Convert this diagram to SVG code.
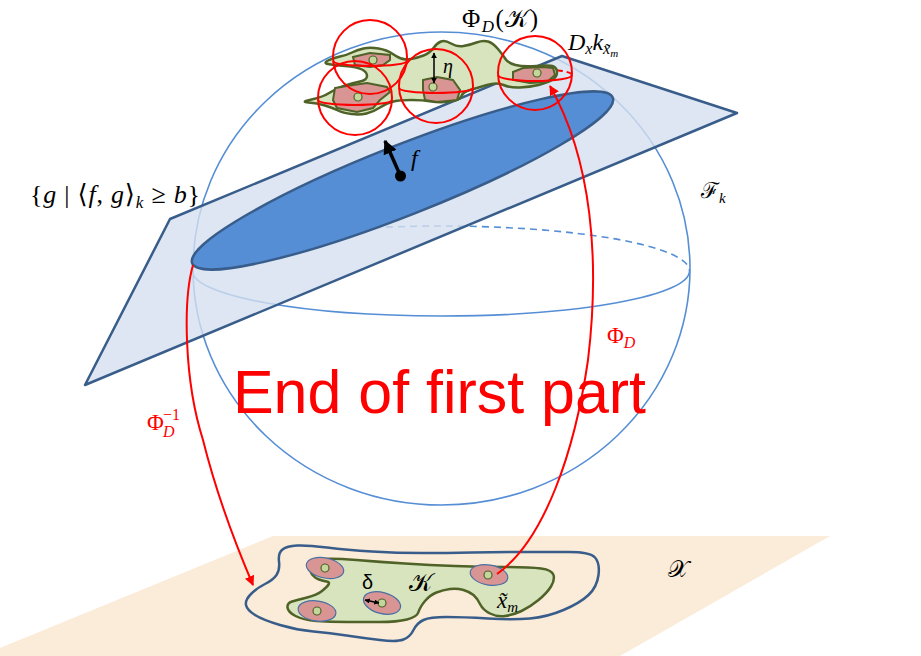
<svg xmlns="http://www.w3.org/2000/svg" width="921" height="656" viewBox="0 0 921 656">
<style>
.math{font-family:"Liberation Serif","DejaVu Serif",serif;fill:#000}
.it{font-style:italic}
.sph{fill:none;stroke:#558ed5;stroke-width:1.6}
.rc{fill:none;stroke:#ff0000;stroke-width:2}
.rcd{fill:none;stroke:#ff0000;stroke-width:2;stroke-dasharray:6 4}
.pinkT{fill:#d99594;stroke:#4f6228;stroke-width:2}
.pinkB{fill:#d99594;stroke:#4a6fa5;stroke-width:1.2}
.dot{fill:#c3d69b;stroke:#4f6228;stroke-width:1.2}
.red{fill:#ff0000}
</style>
<defs>
<marker id="ar" viewBox="0 0 10 10" refX="9" refY="5" markerWidth="5" markerHeight="5" orient="auto" markerUnits="strokeWidth"><path d="M0,0 L10,5 L0,10 z" fill="#ff0000"/></marker>
<marker id="ak" viewBox="0 0 10 10" refX="9" refY="5" markerWidth="4" markerHeight="4" orient="auto" markerUnits="strokeWidth"><path d="M0,0 L10,5 L0,10 z" fill="#000"/></marker>
<marker id="aks" viewBox="0 0 10 10" refX="9" refY="5" markerWidth="4" markerHeight="4" orient="auto-start-reverse" markerUnits="strokeWidth"><path d="M0,0 L10,5 L0,10 z" fill="#000"/></marker>
</defs>

<g id="input-space">
<polygon points="273,536 830,536 620,656 0,656 0,648" fill="#fbebd9"/>
<path d="M251,594 Q257,588 265,584 Q273,580 276.5,575 Q280,570 279,561.5 Q278,553 282.5,549.5 Q287,546 297,545.5 Q307,545 327,547.5 Q347,550 372,551.5 Q397,553 422,553 Q447,553 472,552.5 Q497,552 522,552 Q547,552 568.5,552 Q590,552 595,557.5 Q600,563 598.5,575 Q597,587 588.5,595 Q580,603 563.5,610 Q547,617 530,618.5 Q513,620 488,618.5 Q463,617 446.5,617 Q430,617 423.5,620 Q417,623 413.5,630 Q410,637 403.5,639.5 Q397,642 380,640 Q363,638 346.5,635.5 Q330,633 313.5,631.5 Q297,630 280,625 Q263,620 255,615 Q247,610 246,605 Q245,600 251,594 Z" fill="none" stroke="#385d8a" stroke-width="2.5"/>
<path d="M321.5,559 Q333,558 356.5,560 Q380,562 405,563.5 Q430,565 455,566 Q480,567 505,567 Q530,567 541,568.5 Q552,570 553.5,575 Q555,580 551,586.5 Q547,593 538.5,600 Q530,607 521.5,611 Q513,615 505,616 Q497,617 490,613.5 Q483,610 480,604 Q477,598 473.5,595 Q470,592 463.5,590 Q457,588 450,589 Q443,590 436.5,592.5 Q430,595 425,601 Q420,607 418.5,612 Q417,617 407,619.5 Q397,622 380,622 Q363,622 346.5,622 Q330,622 316.5,621 Q303,620 295.5,616 Q288,612 287.5,607.5 Q287,603 292,601.5 Q297,600 307,597.5 Q317,595 322,591 Q327,587 328.5,584.5 Q330,582 326.5,581.5 Q323,581 319,579.5 Q315,578 312.5,575 Q310,572 310,566 Q310,560 321.5,559 Z" fill="#d7e4bd" stroke="#4f6228" stroke-width="2.5"/>
<ellipse class="pinkB" cx="325" cy="568" rx="19" ry="10" transform="rotate(12 325 568)"/>
<ellipse class="pinkB" cx="317" cy="611" rx="19" ry="10" transform="rotate(8 317 611)"/>
<ellipse class="pinkB" cx="382" cy="603" rx="19" ry="10.5" transform="rotate(15 382 603)"/>
<ellipse class="pinkB" cx="489" cy="575" rx="19" ry="10" transform="rotate(10 489 575)"/>
<circle class="dot" cx="325" cy="568" r="4"/>
<circle class="dot" cx="317" cy="611" r="4"/>
<circle class="dot" cx="382" cy="603" r="4"/>
<circle class="dot" cx="488" cy="575" r="4"/>
<line x1="365" y1="600" x2="379" y2="603" stroke="#000" stroke-width="1.3" marker-start="url(#aks)" marker-end="url(#aks)"/>
<text x="362" y="589" font-family="Liberation Sans, sans-serif" font-size="20" fill="#000">δ</text>
<text x="409" y="591" class="math" font-size="25">𝒦</text>
<text x="497" y="608" class="math it" font-size="23">x̃<tspan font-size="15" dy="4">m</tspan></text>
<text x="668" y="577" class="math" font-size="24">𝒳</text>
</g>

<g id="sphere">
<ellipse class="sph" cx="441.5" cy="268.5" rx="248.5" ry="236.5"/>
<path class="sph" d="M192.5,271 A248.5,45 0 0 1 689.5,271" stroke-dasharray="7 5"/>
<path class="sph" d="M192.5,271 A248.5,45 0 0 0 689.5,271"/>
</g>

<g id="plane">
<polygon points="85,385 170,219 562,56 737,113" fill="#d5e0ef" fill-opacity="0.8" stroke="#385d8a" stroke-width="2.5" stroke-linejoin="round"/>
<ellipse cx="402.5" cy="180.5" rx="226" ry="35" transform="rotate(-21.5 402.5 180.5)" fill="#558ed5" stroke="#385d8a" stroke-width="2.5"/>
</g>

<g id="balls-back">
<path class="rcd" d="M333,61 A37,5 0 0 1 407,61"/>
<path class="rcd" d="M318,100 A37,5 0 0 1 392,100"/>
<path class="rcd" d="M399,88 A37,5 0 0 1 473,88"/>
<path class="rcd" d="M498,75 A37,6 0 0 1 572,75"/>
</g>

<g id="image-set">
<path d="M308.5,102.5 Q317,103 325,105.5 Q333,108 338,110.5 Q343,113 351.5,114 Q360,115 366.5,113.5 Q373,112 380,107.5 Q387,103 393.5,101.5 Q400,100 411.5,100 Q423,100 431.5,101.5 Q440,103 450,101.5 Q460,100 461.5,96 Q463,92 470,90 Q477,88 487,85 Q497,82 503.5,85 Q510,88 520,87.5 Q530,87 538.5,85 Q547,83 552,80 Q557,77 557,72.5 Q557,68 553.5,66.5 Q550,65 536.5,66 Q523,67 515.5,65 Q508,63 505.5,59 Q503,55 498,49 Q493,43 488,41.5 Q483,40 476.5,42.5 Q470,45 463.5,46 Q457,47 451,43.5 Q445,40 441,41.5 Q437,43 433.5,48 Q430,53 423.5,55.5 Q417,58 411,59 Q405,60 401,58.5 Q397,57 392,53.5 Q387,50 378.5,48.5 Q370,47 363.5,48.5 Q357,50 352,52.5 Q347,55 340,56.5 Q333,58 328,60.5 Q323,63 328,64 Q333,65 345,66 Q357,67 362,69.5 Q367,72 367,76 Q367,80 360,81.5 Q353,83 345,85.5 Q337,88 330,92.5 Q323,97 311.5,99.5 Q300,102 308.5,102.5 Z" fill="#d7e4bd" stroke="#4f6228" stroke-width="2.5" stroke-linejoin="round"/>
<polygon class="pinkT" points="353,57 370,53 390,55 390,60 383,65 370,67 355,65"/>
<polygon class="pinkT" points="335,88 353,85 367,83 387,87 390,92 380,100 373,108 357,112 337,108 333,100"/>
<polygon class="pinkT" points="423,80 437,77 453,80 460,90 457,100 437,102 425,100 423,90"/>
<polygon class="pinkT" points="513,72 523,68 543,67 553,68 555,75 547,82 530,83 513,80"/>
<circle class="dot" cx="373" cy="60" r="4"/>
<circle class="dot" cx="358" cy="97" r="4"/>
<circle class="dot" cx="433" cy="87" r="4"/>
<circle class="dot" cx="537" cy="73" r="4"/>
<line x1="434" y1="53" x2="434" y2="83" stroke="#000" stroke-width="1.5" marker-start="url(#aks)" marker-end="url(#aks)"/>
</g>

<g id="balls">
<circle class="rc" cx="370" cy="57" r="37"/>
<path class="rc" d="M333,61 A37,5 0 0 0 407,61"/>
<circle class="rc" cx="355" cy="98" r="37"/>
<path class="rc" d="M318,100 A37,5 0 0 0 392,100"/>
<circle class="rc" cx="436" cy="86" r="37"/>
<path class="rc" d="M399,88 A37,5 0 0 0 473,88"/>
<circle class="rc" cx="535" cy="73" r="37"/>
<path class="rc" d="M498,75 A37,6 0 0 0 572,75"/>
</g>

<g id="f-vector">
<line x1="400.5" y1="176" x2="385" y2="141" stroke="#000" stroke-width="3.5" marker-end="url(#ak)"/>
<circle cx="400.5" cy="176" r="5.5" fill="#000"/>
<text x="411" y="166" class="math it" font-size="24">f</text>
</g>

<g id="connectors">
<path d="M497,574 C545,540 575,450 588,360 C600,260 592,160 550,86" fill="none" stroke="#ff0000" stroke-width="2" marker-end="url(#ar)"/>
<path d="M193,265 C183,300 184,380 203,440 C218,500 238,550 253,585" fill="none" stroke="#ff0000" stroke-width="2" marker-end="url(#ar)"/>
</g>

<g id="labels">
<text x="462" y="27" class="math" font-size="25" textLength="76" lengthAdjust="spacing">Φ<tspan class="it" font-size="17" dy="5">D</tspan><tspan dy="-5">(𝒦)</tspan></text>
<text x="568" y="50" class="math it" font-size="24">D<tspan font-size="16" dy="4">x</tspan><tspan dy="-4">k</tspan><tspan font-size="16" dy="4">x̃</tspan><tspan font-size="11" dy="3">m</tspan></text>
<text x="443" y="73" class="math it" font-size="20">η</text>
<text x="30" y="203" class="math" font-size="26" textLength="170" lengthAdjust="spacing">{<tspan class="it">g</tspan> | ⟨<tspan class="it">f</tspan>, <tspan class="it">g</tspan>⟩<tspan class="it" font-size="17" dy="5">k</tspan><tspan dy="-5"> ≥ </tspan><tspan class="it">b</tspan>}</text>
<text x="701" y="198" class="math" font-size="22">ℱ<tspan class="it" font-size="15" dy="5">k</tspan></text>
<text x="607" y="343" class="math red" font-size="23" fill="#ff0000">Φ<tspan class="it" font-size="16" dy="5">D</tspan></text>
<text x="147" y="430" class="math red" font-size="23" fill="#ff0000">Φ<tspan class="it" font-size="16" x="163" y="437">D</tspan><tspan font-size="16" x="163" y="420">−1</tspan></text>
<text x="233" y="413" font-family="Liberation Sans, sans-serif" font-size="62" fill="#ff0000" textLength="413" lengthAdjust="spacingAndGlyphs">End of first part</text>
</g>
</svg>
